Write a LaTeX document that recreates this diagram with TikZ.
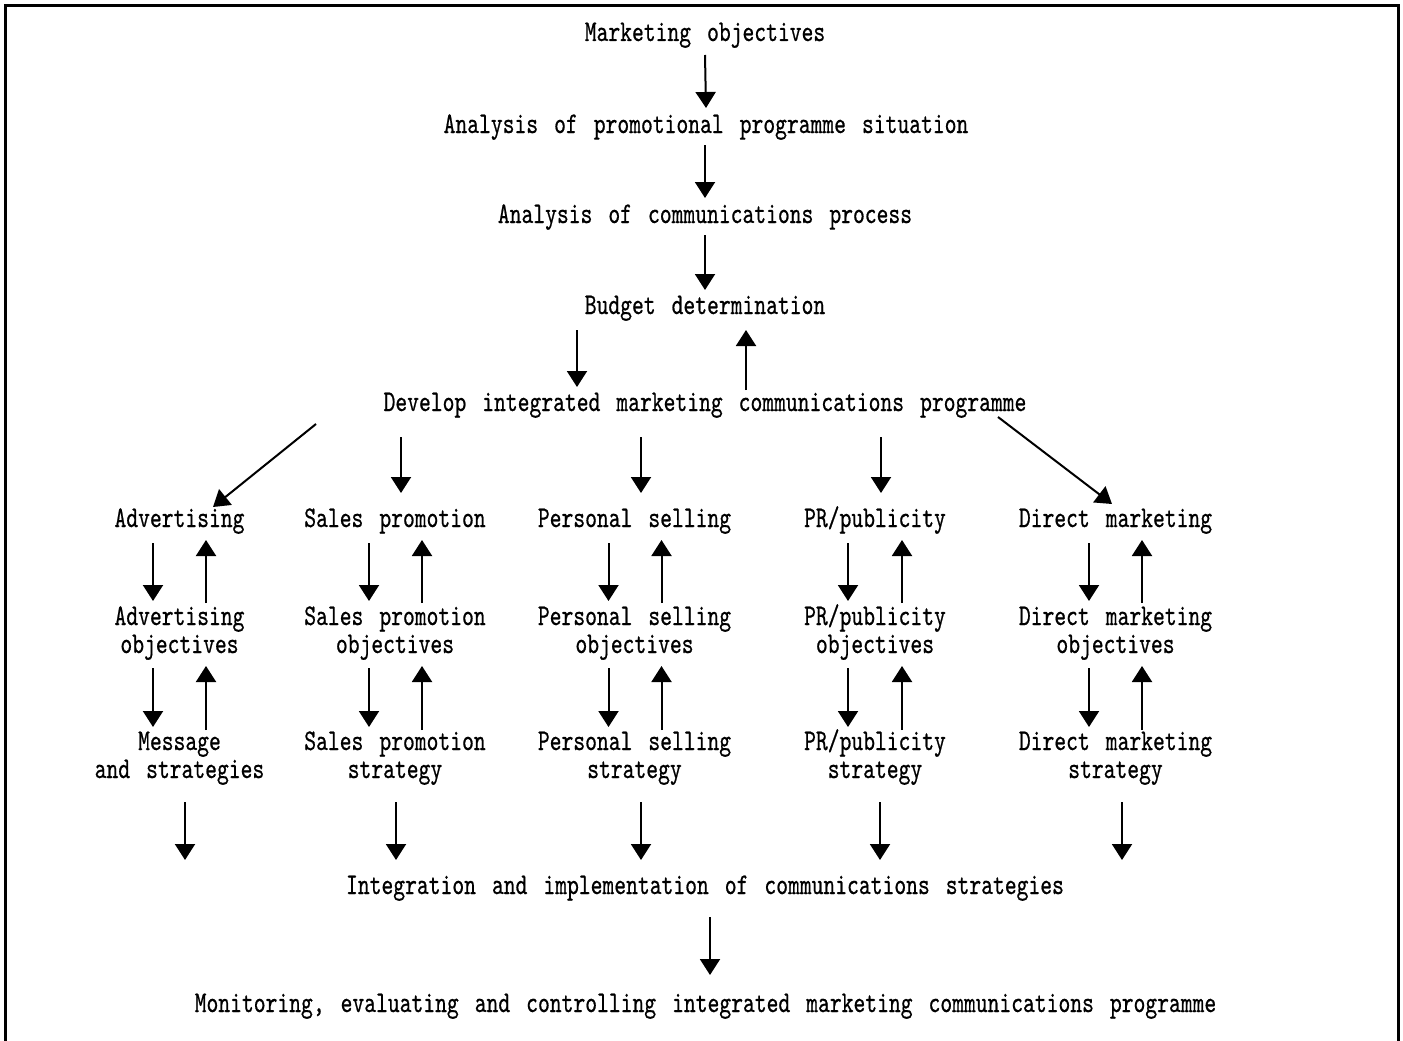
\documentclass[tikz,border=0pt]{standalone}
\usepackage{fontspec}
\usetikzlibrary{arrows.meta}
% condensed slab typewriter face for all labels
\newfontfamily\diagfont{lmmono10-regular.otf}[FakeStretch=0.75,FakeBold=0.6]
\newcommand\labfont{\diagfont\fontsize{30}{28}\selectfont\spaceskip=16pt\relax}
\begin{document}
\begin{tikzpicture}[x=1pt,y=-1pt,
  lbl/.style={font=\labfont, inner sep=0pt, anchor=base, align=center},
  arr/.style={line width=2pt, -{Triangle[width=20pt,length=16pt]}},
  frame/.style={line width=3pt}
]
\fill[white] (0,0) rectangle (1403,1041);
\useasboundingbox (0,0) rectangle (1403,1041);
\draw[frame] (5.5,1041) -- (5.5,6) -- (1398.5,6) -- (1398.5,1041);

% main chain
\node[lbl] (mo)  at (705,41)  {Marketing objectives};
\node[lbl] (aps) at (706,133) {Analysis of promotional programme situation};
\node[lbl] (acp) at (705,223) {Analysis of communications process};
\node[lbl] (bd)  at (705,314) {Budget determination};
\node[lbl] (dev) at (705,411) {Develop integrated marketing communications programme};

% five tools (base anchor = baseline of the last line)
\node[lbl] (adv) at (179.5,527) {Advertising};
\node[lbl] (sp)  at (395,527)   {Sales promotion};
\node[lbl] (ps)  at (634.5,527) {Personal selling};
\node[lbl] (pr)  at (875,527)   {PR/publicity};
\node[lbl] (dm)  at (1115.5,527){Direct marketing};

\node[lbl] (advo) at (179.5,653) {Advertising\\objectives};
\node[lbl] (spo)  at (395,653)   {Sales promotion\\objectives};
\node[lbl] (pso)  at (634.5,653) {Personal selling\\objectives};
\node[lbl] (pro)  at (875,653)   {PR/publicity\\objectives};
\node[lbl] (dmo)  at (1115.5,653){Direct marketing\\objectives};

\node[lbl] (advs) at (179.5,778) {Message\\and strategies};
\node[lbl] (sps)  at (395,778)   {Sales promotion\\strategy};
\node[lbl] (pss)  at (634.5,778) {Personal selling\\strategy};
\node[lbl] (prs)  at (875,778)   {PR/publicity\\strategy};
\node[lbl] (dms)  at (1115.5,778){Direct marketing\\strategy};

\node[lbl] (int) at (705,894)  {Integration and implementation of communications strategies};
\node[lbl] (mon) at (705.5,1012) {Monitoring, evaluating and controlling integrated marketing communications programme};

% main chain arrows
\draw[arr] ([shift={(0,14)}]mo.base)  -- ([shift={(0,-25)}]aps.base);
\draw[arr] ([shift={(-1,12)}]aps.base) -- ([shift={(0,-25)}]acp.base);
\draw[arr] ([shift={(0,12)}]acp.base) -- ([shift={(0,-24)}]bd.base);
\draw[arr] ([shift={(-128,16)}]bd.base) -- ([shift={(-128,-24)}]dev.base);
\draw[arr] ([shift={(41,-21)}]dev.base) -- ([shift={(41,16)}]bd.base);

% fan-out to the tools
\draw[arr] ([shift={(-389,13)}]dev.base) -- ([shift={(33.5,-20)}]adv.base);
\draw[arr] ([shift={(-304,26)}]dev.base) -- ([shift={(6,-34)}]sp.base);
\draw[arr] ([shift={(-64,26)}]dev.base)  -- ([shift={(6.5,-34)}]ps.base);
\draw[arr] ([shift={(176,26)}]dev.base)  -- ([shift={(6,-34)}]pr.base);
\draw[arr] ([shift={(293,6)}]dev.base)   -- ([shift={(-3.5,-23)}]dm.base);

% two-way arrows within each column
\foreach \t/\o/\s/\dl/\dr in {adv/advo/advs/-26.5/26.5, sp/spo/sps/-26/27,
    ps/pso/pss/-26/27, pr/pro/prs/-27/27, dm/dmo/dms/-26.5/26.5}{
  \draw[arr] ([shift={(\dl,16)}]\t.base)  -- ([shift={(\dl,-52)}]\o.base);
  \draw[arr] ([shift={(\dr,-50)}]\o.base) -- ([shift={(\dr,13)}]\t.base);
  \draw[arr] ([shift={(\dl,15)}]\o.base)  -- ([shift={(\dl,-51)}]\s.base);
  \draw[arr] ([shift={(\dr,-48)}]\s.base) -- ([shift={(\dr,13)}]\o.base);
}

% columns into integration
\draw[arr] ([shift={(5.5,24)}]advs.base) -- ([shift={(-520,-34)}]int.base);
\draw[arr] ([shift={(1,24)}]sps.base)    -- ([shift={(-309,-34)}]int.base);
\draw[arr] ([shift={(6.5,24)}]pss.base)  -- ([shift={(-64,-34)}]int.base);
\draw[arr] ([shift={(5,24)}]prs.base)    -- ([shift={(175,-34)}]int.base);
\draw[arr] ([shift={(6.5,24)}]dms.base)  -- ([shift={(417,-34)}]int.base);

\draw[arr] ([shift={(5,23)}]int.base) -- ([shift={(4.5,-37)}]mon.base);
\end{tikzpicture}
\end{document}
